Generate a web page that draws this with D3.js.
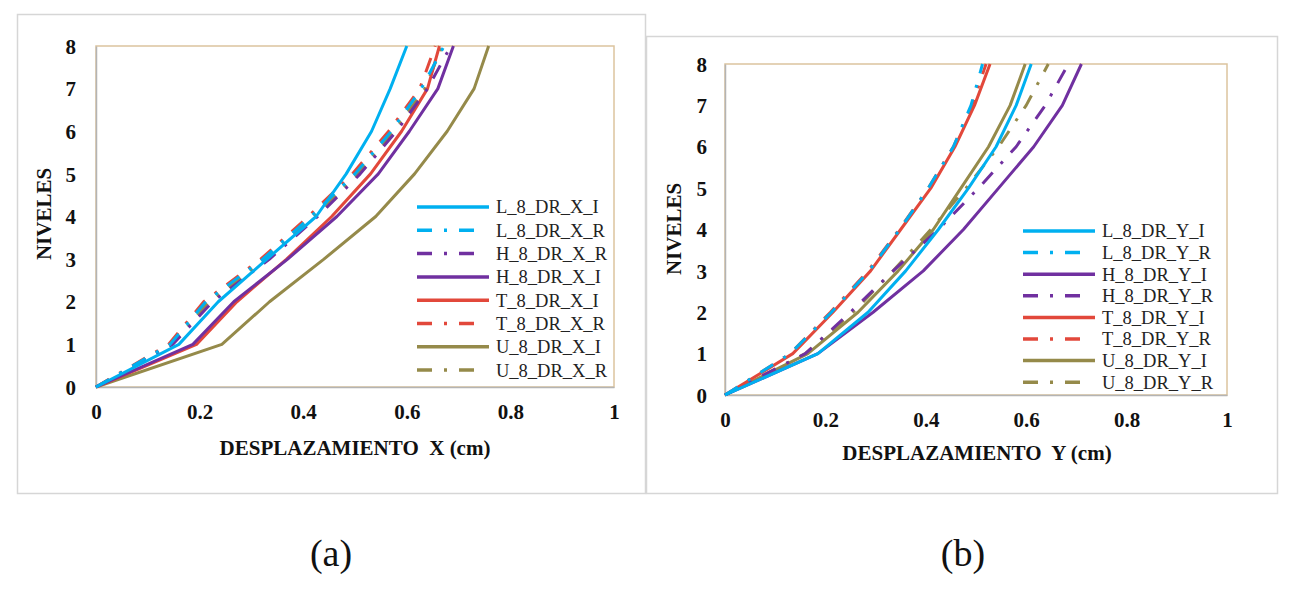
<!DOCTYPE html>
<html>
<head>
<meta charset="utf-8">
<script src="https://cdn.jsdelivr.net/npm/d3@7"></script>
<style>
  body { margin: 0; background: #fff; }
  svg text { font-family: "Liberation Serif", "DejaVu Serif", serif !important; }
</style>
</head>
<body>
<svg id="fig" width="1311" height="589"></svg>
<script>
/*******************************************************************************
 */
var levels = [0, 1, 2, 3, 4, 5, 6, 7, 8];
var xTicks = [0, 0.2, 0.4, 0.6, 0.8, 1];
var yTicks = [0, 1, 2, 3, 4, 5, 6, 7, 8];

// panel (a) - direction X
var L_8_DR_X_I = [0, 0.16, 0.236, 0.33, 0.425, 0.483, 0.532, 0.568, 0.6];
var L_8_DR_X_R = [0, 0.143, 0.212, 0.322, 0.415, 0.5, 0.57, 0.628, 0.672];
var H_8_DR_X_R = [0, 0.148, 0.225, 0.335, 0.428, 0.51, 0.58, 0.64, 0.685];
var H_8_DR_X_I = [0, 0.187, 0.266, 0.37, 0.465, 0.545, 0.605, 0.66, 0.69];
var T_8_DR_X_I = [0, 0.194, 0.272, 0.368, 0.455, 0.53, 0.59, 0.64, 0.663];
var T_8_DR_X_R = [0, 0.14, 0.208, 0.318, 0.41, 0.495, 0.565, 0.625, 0.655];
var U_8_DR_X_I = [0, 0.243, 0.335, 0.44, 0.54, 0.615, 0.678, 0.73, 0.758];
var U_8_DR_X_R = [0, 0.146, 0.218, 0.328, 0.422, 0.505, 0.575, 0.635, 0.668];

// panel (b) - direction Y
var L_8_DR_Y_I = [0, 0.185, 0.285, 0.36, 0.425, 0.485, 0.54, 0.58, 0.61];
var L_8_DR_Y_R = [0, 0.13, 0.212, 0.287, 0.348, 0.405, 0.455, 0.49, 0.513];
var H_8_DR_Y_I = [0, 0.185, 0.295, 0.395, 0.475, 0.545, 0.615, 0.672, 0.71];
var H_8_DR_Y_R = [0, 0.16, 0.25, 0.335, 0.425, 0.505, 0.58, 0.638, 0.684];
var T_8_DR_Y_I = [0, 0.135, 0.215, 0.29, 0.35, 0.41, 0.458, 0.497, 0.528];
var T_8_DR_Y_R = [0, 0.13, 0.21, 0.285, 0.347, 0.405, 0.455, 0.492, 0.52];
var U_8_DR_Y_I = [0, 0.165, 0.265, 0.345, 0.415, 0.47, 0.525, 0.568, 0.598];
var U_8_DR_Y_R = [0, 0.16, 0.255, 0.335, 0.41, 0.48, 0.545, 0.6, 0.644];

var BLUE = "#00b0f0", PURPLE = "#7030a0", RED = "#e2483b", OLIVE = "#958a4a";
var FONT = "'Liberation Serif', 'DejaVu Serif', serif";

// legend order is the order of these lists
var seriesA = [
  { key: "L_8_DR_X_I", values: L_8_DR_X_I, color: BLUE, dash: false },
  { key: "L_8_DR_X_R", values: L_8_DR_X_R, color: BLUE, dash: true },
  { key: "H_8_DR_X_R", values: H_8_DR_X_R, color: PURPLE, dash: true },
  { key: "H_8_DR_X_I", values: H_8_DR_X_I, color: PURPLE, dash: false },
  { key: "T_8_DR_X_I", values: T_8_DR_X_I, color: RED, dash: false },
  { key: "T_8_DR_X_R", values: T_8_DR_X_R, color: RED, dash: true },
  { key: "U_8_DR_X_I", values: U_8_DR_X_I, color: OLIVE, dash: false },
  { key: "U_8_DR_X_R", values: U_8_DR_X_R, color: OLIVE, dash: true }
];
var seriesB = [
  { key: "L_8_DR_Y_I", values: L_8_DR_Y_I, color: BLUE, dash: false },
  { key: "L_8_DR_Y_R", values: L_8_DR_Y_R, color: BLUE, dash: true },
  { key: "H_8_DR_Y_I", values: H_8_DR_Y_I, color: PURPLE, dash: false },
  { key: "H_8_DR_Y_R", values: H_8_DR_Y_R, color: PURPLE, dash: true },
  { key: "T_8_DR_Y_I", values: T_8_DR_Y_I, color: RED, dash: false },
  { key: "T_8_DR_Y_R", values: T_8_DR_Y_R, color: RED, dash: true },
  { key: "U_8_DR_Y_I", values: U_8_DR_Y_I, color: OLIVE, dash: false },
  { key: "U_8_DR_Y_R", values: U_8_DR_Y_R, color: OLIVE, dash: true }
];

var DASH = "15,12,3,12";
var svg = d3.select("#fig");

function drawPanel(cfg) {
  // outer frame of the excel chart
  svg.append("rect")
    .attr("x", cfg.frame[0] + 0.5).attr("y", cfg.frame[1] + 0.5)
    .attr("width", cfg.frame[2] - cfg.frame[0]).attr("height", cfg.frame[3] - cfg.frame[1])
    .attr("fill", "#fff").attr("stroke", "#d6d6d6").attr("stroke-width", 1.5);

  var x = d3.scaleLinear().domain([0, 1]).range([cfg.plot[0], cfg.plot[2]]);
  var y = d3.scaleLinear().domain([0, 8]).range([cfg.plot[3], cfg.plot[1]]);

  var g = svg.append("g");

  // plot area border (tan on top / right)
  g.append("rect")
    .attr("x", x(0)).attr("y", y(8))
    .attr("width", x(1) - x(0)).attr("height", y(0) - y(8))
    .attr("fill", "none").attr("stroke", "#dcc49e").attr("stroke-width", 1.5);

  var xAxis = g.append("g")
    .attr("transform", "translate(0," + y(0) + ")")
    .call(d3.axisBottom(x).tickValues(xTicks).tickSize(0).tickPadding(0)
      .tickFormat(function(d) { return d3.format("~g")(d); }));
  var yAxis = g.append("g")
    .attr("transform", "translate(" + x(0) + ",0)")
    .call(d3.axisLeft(y).tickValues(yTicks).tickSize(0).tickPadding(cfg.yPad)
      .tickFormat(d3.format("d")));

  [xAxis, yAxis].forEach(function(a) {
    a.attr("font-family", FONT);
    a.select(".domain").attr("stroke", "#b4b4b4").attr("stroke-width", 1.5);
    a.selectAll("text")
      .attr("fill", "#111").attr("font-size", 21).attr("font-weight", "bold");
  });
  xAxis.selectAll("text").attr("dy", null).attr("y", 32);
  yAxis.selectAll("text").attr("dy", "0.34em");

  var line = d3.line()
    .x(function(d) { return x(d); })
    .y(function(d, i) { return y(levels[i]); });

  g.selectAll("path.serie")
    .data(cfg.series.slice().reverse())
    .enter().append("path")
    .attr("class", "serie")
    .attr("d", function(d) { return line(d.values); })
    .attr("fill", "none")
    .attr("stroke", function(d) { return d.color; })
    .attr("stroke-width", 3)
    .attr("stroke-linejoin", "round")
    .attr("stroke-dasharray", function(d) { return d.dash ? DASH : null; });

  // legend
  var lg = g.append("g");
  cfg.series.forEach(function(s, i) {
    var yy = cfg.legend.y + i * cfg.legend.step;
    lg.append("line")
      .attr("x1", cfg.legend.x).attr("x2", cfg.legend.x + (s.dash ? 57 : 72))
      .attr("y1", yy).attr("y2", yy)
      .attr("stroke", s.color).attr("stroke-width", 3.5)
      .attr("stroke-dasharray", s.dash ? DASH : null);
    lg.append("text")
      .attr("x", cfg.legend.x + 79).attr("y", yy).attr("dy", "0.35em")
      .attr("font-size", 18.5).attr("fill", "#222")
      .text(s.key);
  });

  // axis titles
  g.append("text")
    .attr("x", cfg.xTitle[0]).attr("y", cfg.xTitle[1])
    .attr("text-anchor", "middle").attr("font-size", 21).attr("font-weight", "bold")
    .attr("fill", "#111").style("white-space", "pre")
    .text(cfg.xLabel);
  g.append("text")
    .attr("transform", "translate(" + cfg.yTitle[0] + "," + cfg.yTitle[1] + ") rotate(-90)")
    .attr("text-anchor", "middle").attr("font-size", 21).attr("font-weight", "bold")
    .attr("fill", "#111")
    .text("NIVELES");

  // caption
  svg.append("text")
    .attr("x", cfg.caption[0]).attr("y", cfg.caption[1])
    .attr("text-anchor", "middle").attr("font-size", 38).attr("fill", "#111")
    .text(cfg.captionText);
}

drawPanel({
  frame: [17, 14, 645, 493],
  plot: [96, 46, 614, 387],
  yPad: 20,
  series: seriesA,
  legend: { x: 417, y: 207, step: 23.3 },
  xLabel: "DESPLAZAMIENTO  X (cm)",
  xTitle: [355, 455],
  yTitle: [51, 214],
  caption: [331, 566],
  captionText: "(a)"
});

drawPanel({
  frame: [646, 36, 1277, 493],
  plot: [725, 64, 1227, 395],
  yPad: 18,
  series: seriesB,
  legend: { x: 1023, y: 231, step: 21.6 },
  xLabel: "DESPLAZAMIENTO  Y (cm)",
  xTitle: [977, 460],
  yTitle: [681, 229],
  caption: [963, 566],
  captionText: "(b)"
});
</script>
</body>
</html>
